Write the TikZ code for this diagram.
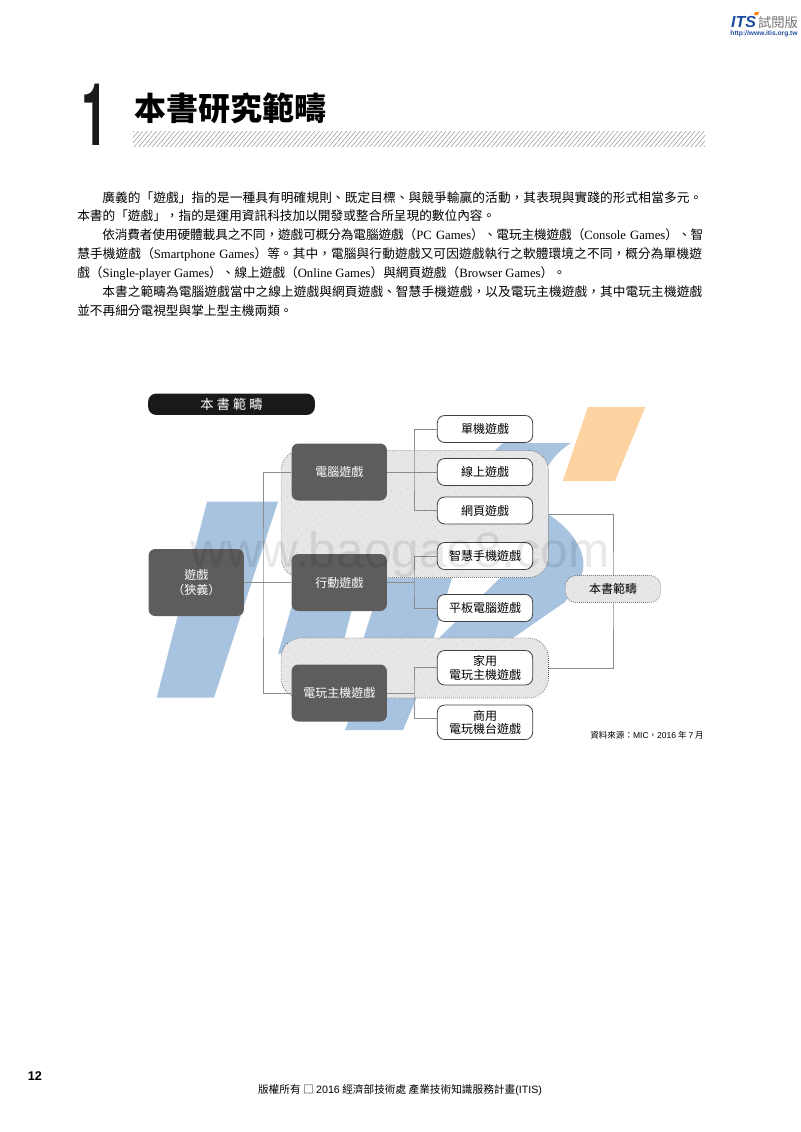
\documentclass[tikz,border=0pt]{standalone}
\usepackage{fontspec}
\setmainfont{Noto Sans CJK TC}
\newfontfamily\sanslat{Liberation Sans}
\newfontfamily\seriflat{Liberation Serif}
\newfontfamily\numfont{TeX Gyre Heros}
\usetikzlibrary{patterns.meta}
\XeTeXlinebreaklocale "zh"
\XeTeXlinebreakskip=0pt plus 2pt minus 1pt
\newcommand{\lat}[1]{{\seriflat #1}}
\definecolor{boxgray}{HTML}{5F5D5C}
\definecolor{areagray}{HTML}{E6E6E6}
\definecolor{linegray}{HTML}{8C8C8C}
\definecolor{logoblue}{HTML}{A8C3DF}
\definecolor{logopeach}{HTML}{FDD3A2}
\definecolor{itisblue}{HTML}{1F4E9E}
\tikzset{
	darkbox/.style={draw=none, fill=boxgray, rounded corners=5pt, text=white, minimum width=71.5pt, align=center, font=\fontsize{9}{11}\selectfont},
	leafbox/.style={draw=black!75, line width=0.6pt, fill=white, rounded corners=5.5pt, minimum width=71.5pt, align=center, inner sep=0pt, font=\fontsize{9}{10}\selectfont},
	scopearea/.style={draw=black!70, densely dotted, line width=0.5pt, fill=areagray, postaction={pattern={Dots[distance=5pt,radius=0.25pt,angle=30]}, pattern color=black!35}},
	linkline/.style={draw=linegray, line width=0.75pt},
	bodyline/.style={anchor=base west, inner sep=0pt, font=\fontsize{9.5}{12}\selectfont},
	fullline/.style={bodyline, text width=#1, execute at begin node={\parfillskip=0pt}},
}
\begin{document}
\begin{tikzpicture}[x=0.75pt,y=-0.75pt]
	\useasboundingbox (0,0) rectangle (800,1132);
	% page head
	\node (logo) at (743.5,22) [inner sep=0pt, text=itisblue] {\sanslat\bfseries\itshape\fontsize{12}{12}\selectfont ITS};
	\fill[orange] (755,12) -- (759,12) -- (758,15) -- (754,15) -- cycle;
	\node (trial) at (778,22) [inner sep=0pt, text=black!55, font=\fontsize{10}{12}\selectfont] {試閱版};
	\node (url) at (764,34) [inner sep=0pt, text=itisblue] {\sanslat\bfseries\fontsize{5}{6}\selectfont http://www.itis.org.tw};
	% chapter title
	\node (num) at (108,145) [anchor=base east, inner sep=0pt, text=black!90] {\scalebox{0.55}[1]{\numfont\bfseries\fontsize{65}{65}\selectfont 1}};
	\node (title) at (134,108) [anchor=west, inner sep=0pt, font=\fontsize{24}{28}\selectfont\bfseries] {本書研究範疇};
	\node (strip) at (419,138.5) [minimum width=429pt, minimum height=11.25pt, inner sep=0pt, pattern={Lines[angle=50,distance=2.6pt,line width=0.35pt]}, pattern color=black!45] {};
	% text
	\node (lineA) at (102,202) [fullline=450.75pt] {廣義的「遊戲」指的是一種具有明確規則、既定目標、與競爭輸贏的活動，其表現與實踐的形式相當多元。};
	\node (lineB) at (77,220) [bodyline] {本書的「遊戲」，指的是運用資訊科技加以開發或整合所呈現的數位內容。};
	\node (lineC) at (102,239) [fullline=450.75pt] {依消費者使用硬體載具之不同，遊戲可概分為電腦遊戲（\lat{PC Games}）、電玩主機遊戲（\lat{Console Games}）、智};
	\node (lineD) at (77,258) [fullline=469.5pt] {慧手機遊戲（\lat{Smartphone Games}）等。其中，電腦與行動遊戲又可因遊戲執行之軟體環境之不同，概分為單機遊};
	\node (lineE) at (77,277) [bodyline] {戲（\lat{Single-player Games}）、線上遊戲（\lat{Online Games}）與網頁遊戲（\lat{Browser Games}）。};
	\node (lineF) at (102,296) [fullline=450.75pt] {本書之範疇為電腦遊戲當中之線上遊戲與網頁遊戲、智慧手機遊戲，以及電玩主機遊戲，其中電玩主機遊戲};
	\node (lineG) at (77,315) [bodyline] {並不再細分電視型與掌上型主機兩類。};
	% logo behind the chart
	\fill[logoblue] (207,501.7) -- (278,501.7) -- (214,697.7) -- (156.7,697.7) -- cycle;
	\fill[logoblue] (278,654) -- (300,578) -- (452,578) -- (433,640) -- (363,640) -- (374,605) -- (353,605) -- (344,640) -- cycle;
	\fill[logoblue] (345,730) -- (403,730) -- (420,690) -- (360,690) -- cycle;
	\fill[logoblue] (437,640) -- (500,578) -- (520,520) -- (548,514) .. controls (572,530) and (586,550) .. (583,570) .. controls (580,584) and (572,592) .. (565,602) -- (510,640) -- cycle;
	\fill[logoblue] (490,455) -- (503,443) -- (571,443) .. controls (560,450) and (552,458) .. (546,470) -- (500,470) -- cycle;
	\fill[logopeach] (588,407) -- (645.3,407) -- (615,481) -- (562.7,481) -- cycle;
	% scope areas
	\node (areaA) at (414.75,514) [scopearea, rounded corners=15pt, minimum width=200.5pt, minimum height=95.25pt, inner sep=0pt] {};
	\node (areaB) at (414.75,668) [scopearea, rounded corners=15pt, minimum width=200.5pt, minimum height=45pt, inner sep=0pt] {};
	% chart
	\node (head) at (231.5,404.25) [fill=black!90, rounded corners=6pt, minimum width=125pt, minimum height=16pt, inner sep=0pt, text=white, font=\fontsize{10}{12}\selectfont] {本 書 範 疇};
	\coordinate (trunk) at (263,582.5);
	\coordinate (forkA) at (414,472);
	\coordinate (forkB) at (414,582.5);
	\coordinate (forkC) at (414,693);
	\coordinate (forkD) at (613,590);

	\node (game) at (196.25,582.5) [darkbox, minimum height=50.25pt] {遊戲\\（狹義）};
	\node (pc) at (339.25,472) [darkbox, minimum height=42.75pt] {電腦遊戲};
	\node (mobile) at (339.25,582.5) [darkbox, minimum height=42.75pt] {行動遊戲};
	\node (console) at (339.25,693) [darkbox, minimum height=42.75pt] {電玩主機遊戲};

	\node (single) at (485,429) [leafbox, minimum height=20.25pt] {單機遊戲};
	\node (online) at (485,472) [leafbox, minimum height=20.25pt] {線上遊戲};
	\node (web) at (485,510.5) [leafbox, minimum height=20.25pt] {網頁遊戲};
	\node (smart) at (485,556) [leafbox, minimum height=20.25pt] {智慧手機遊戲};
	\node (tablet) at (485,608) [leafbox, minimum height=20.25pt] {平板電腦遊戲};
	\node (home) at (485,667.75) [leafbox, minimum height=25.9pt] {家用\\電玩主機遊戲};
	\node (arcade) at (485,722.25) [leafbox, minimum height=25.9pt] {商用\\電玩機台遊戲};

	\draw[linkline]
	(game.east) -- (mobile.west)
	(pc.west) -| (trunk) |- (console.west)
	(pc.east) -- (online.west)
	(single.west) -| (forkA) |- (web.west)
	(mobile.east) -- (forkB)
	(smart.west) -| (forkB) |- (tablet.west)
	(console.east) -- (forkC)
	(home.west) -| (forkC) |- ([yshift=3pt]arcade.west)
	(areaA.east) -| (forkD) |- (areaB.east)
	;

	\node (scope) at (613,589) [scopearea, rounded corners=8pt, minimum width=71.5pt, minimum height=20.25pt, inner sep=0pt, font=\fontsize{9}{11}\selectfont] {本書範疇};
	\node (source) at (704,735) [anchor=east, inner sep=0pt, font=\fontsize{6.4}{8}\selectfont] {資料來源：{\sanslat MIC}，{\sanslat 2016} 年 {\sanslat 7} 月};
	% watermark
	\node (mark) at (400,567) [anchor=base, inner sep=0pt, text=black, opacity=0.09] {\sanslat\fontsize{37.2}{40}\selectfont www.baogao8.com};
	% page foot
	\node (page) at (35,1076) [inner sep=0pt] {\sanslat\bfseries\fontsize{9.5}{11}\selectfont 12};
	\node (foot) at (400,1090) [inner sep=0pt, font=\fontsize{8}{10}\selectfont] {版權所有 □ {\sanslat 2016} 經濟部技術處 產業技術知識服務計畫{\sanslat (ITIS)}};
\end{tikzpicture}
\end{document}
